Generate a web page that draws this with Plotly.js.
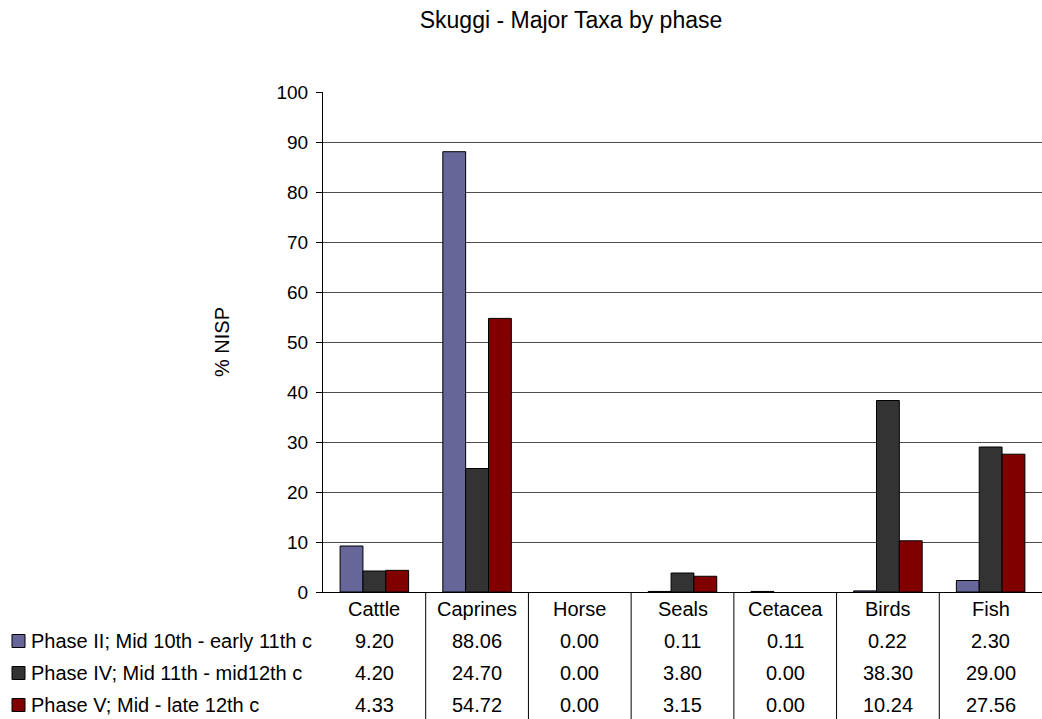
<!DOCTYPE html>
<html>
<head>
<meta charset="utf-8">
<script src="https://cdn.plot.ly/plotly-3.0.1.min.js"></script>
<style>
html,body{margin:0;padding:0;background:#fff;}
#chart{width:1042px;height:719px;}
</style>
</head>
<body>
<div id="chart"></div>
<script>
var categories = ["Cattle", "Caprines", "Horse", "Seals", "Cetacea", "Birds", "Fish"];
var seriesNames = [
  "Phase II; Mid 10th - early 11th c",
  "Phase IV; Mid 11th - mid12th c",
  "Phase V; Mid - late 12th c"
];
var phaseII = [9.20, 88.06, 0.00, 0.11, 0.11, 0.22, 2.30];
var phaseIV = [4.20, 24.70, 0.00, 3.80, 0.00, 38.30, 29.00];
var phaseV  = [4.33, 54.72, 0.00, 3.15, 0.00, 10.24, 27.56];
var colors = ["#666699", "#333333", "#800000"];
var yTicks = [0, 10, 20, 30, 40, 50, 60, 70, 80, 90, 100];

var FONT = "Liberation Sans, Arial, sans-serif";
var W = 1042, H = 719;
var M = {l: 323, r: 0, t: 92, b: 127};
var plotW = W - M.l - M.r;
var plotH = H - M.t - M.b;

var allSeries = [phaseII, phaseIV, phaseV];
var traces = allSeries.map(function (vals, i) {
  return {
    type: "bar",
    name: seriesNames[i],
    x: categories,
    y: vals,
    marker: {
      color: colors[i],
      line: {color: "#000000", width: vals.map(function (v) { return v === 0 ? 0 : 1; })}
    },
    hoverinfo: "x+y+name"
  };
});

var annotations = [];
var shapes = [];

// header row (category names) and value rows
var rowShift = [-17, -49, -81, -113];
categories.forEach(function (c, j) {
  annotations.push({
    xref: "x", yref: "paper", x: c, y: 0, yanchor: "middle", xanchor: "center",
    yshift: rowShift[0], text: c, showarrow: false,
    font: {family: FONT, size: 20, color: "#000"}
  });
  allSeries.forEach(function (vals, i) {
    annotations.push({
      xref: "x", yref: "paper", x: c, y: 0, yanchor: "middle", xanchor: "center",
      yshift: rowShift[i + 1], text: vals[j].toFixed(2), showarrow: false,
      font: {family: FONT, size: 20, color: "#000"}
    });
  });
});

// legend keys + labels in the table's left column
seriesNames.forEach(function (n, i) {
  var cy = rowShift[i + 1];
  annotations.push({
    xref: "paper", yref: "paper", x: (29 - M.l) / plotW, y: 0,
    xanchor: "left", yanchor: "middle", yshift: cy, text: n, showarrow: false,
    font: {family: FONT, size: 20, color: "#000"}
  });
  shapes.push({
    type: "rect", xref: "paper", yref: "paper",
    x0: (12 - M.l) / plotW, x1: (25 - M.l) / plotW,
    y0: (cy - 6.5) / plotH, y1: (cy + 6.5) / plotH,
    fillcolor: colors[i], line: {color: "#000", width: 1}
  });
});

// table vertical separators between categories
for (var k = 0; k < categories.length - 1; k++) {
  shapes.push({
    type: "line", xref: "x", yref: "paper",
    x0: k + 0.5, x1: k + 0.5, y0: 0, y1: -M.b / plotH,
    line: {color: "#000", width: 1}
  });
}

var layout = {
  width: W, height: H,
  margin: M,
  paper_bgcolor: "#ffffff",
  plot_bgcolor: "#ffffff",
  showlegend: false,
  barmode: "group",
  bargap: 0.333,
  bargroupgap: 0,
  title: {
    text: "Skuggi - Major Taxa by phase",
    font: {family: FONT, size: 23, color: "#000"},
    xref: "container", x: 571 / W, xanchor: "center",
    yref: "container", y: 1 - 20 / H, yanchor: "middle"
  },
  font: {family: FONT, size: 20, color: "#000"},
  xaxis: {
    type: "category",
    range: [-0.5, categories.length - 0.5],
    showticklabels: false,
    ticks: "",
    showline: true, linecolor: "#000", linewidth: 1,
    showgrid: false, zeroline: false,
    fixedrange: true
  },
  yaxis: {
    range: [0, 100],
    tickvals: yTicks,
    ticktext: yTicks.map(String),
    ticks: "outside", ticklen: 6, tickcolor: "#000",
    ticklabelstandoff: 4,
    tickfont: {family: FONT, size: 19, color: "#000"},
    showline: true, linecolor: "#000", linewidth: 1,
    showgrid: true, gridcolor: "#4d4d4d", gridwidth: 1,
    zeroline: false,
    title: {text: "% NISP", font: {family: FONT, size: 20, color: "#000"}, standoff: 41},
    fixedrange: true
  },
  annotations: annotations,
  shapes: shapes
};

Plotly.newPlot("chart", traces, layout, {displayModeBar: false, staticPlot: true});
</script>
</body>
</html>
